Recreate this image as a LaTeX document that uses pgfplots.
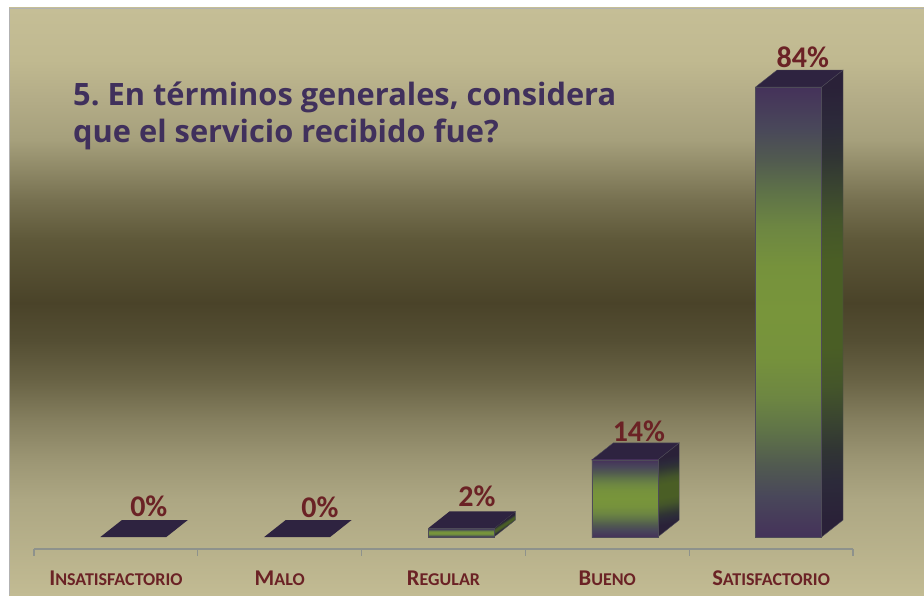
\documentclass[border=0pt]{standalone}
\usepackage{fontspec}
\setmainfont{Carlito}
\newfontfamily\titlefont{Open Sans}
\usepackage{pgfplots}
\pgfplotsset{compat=1.18}
\definecolor{maroon}{HTML}{6B2225}
\definecolor{titlepurple}{HTML}{40305C}
\definecolor{edgec}{HTML}{4E4B58}
\definecolor{axisc}{HTML}{8E928C}
\definecolor{f0}{HTML}{45325A}
\definecolor{f1}{HTML}{49475A}
\definecolor{f2}{HTML}{515A50}
\definecolor{f3}{HTML}{5F7348}
\definecolor{f4}{HTML}{6D8642}
\definecolor{f5}{HTML}{76923C}
\definecolor{f6}{HTML}{78953B}
\definecolor{s0}{HTML}{2A2138}
\definecolor{s1}{HTML}{2C2A3A}
\definecolor{s2}{HTML}{303434}
\definecolor{s3}{HTML}{3A4530}
\definecolor{s4}{HTML}{44552A}
\definecolor{s5}{HTML}{4A5E25}
\definecolor{topc}{HTML}{2E2340}
\definecolor{b0}{HTML}{C5BE96}
\definecolor{b1}{HTML}{C0B990}
\definecolor{b2}{HTML}{B3AC87}
\definecolor{b3}{HTML}{A6A07C}
\definecolor{b4}{HTML}{8E8866}
\definecolor{b5}{HTML}{767050}
\definecolor{b6}{HTML}{5E5839}
\definecolor{b7}{HTML}{4A4329}
\definecolor{b8}{HTML}{544E33}
\definecolor{b9}{HTML}{696345}
\definecolor{b10}{HTML}{857F5F}
\definecolor{b11}{HTML}{9C9674}
\definecolor{b12}{HTML}{ADA783}
\definecolor{b13}{HTML}{C2BB93}
\pgfdeclareverticalshading{panelbg}{100bp}{%
 color(0bp)=(b13);color(25bp)=(b13);color(33.1bp)=(b12);color(36.5bp)=(b11);color(39.9bp)=(b10);
 color(43.3bp)=(b9);color(46.7bp)=(b8);color(49.9bp)=(b7);color(55.2bp)=(b6);color(58.6bp)=(b5);
 color(61.2bp)=(b4);color(63.8bp)=(b3);color(67.2bp)=(b2);color(70.6bp)=(b1);color(75bp)=(b0);color(100bp)=(b0)}
\pgfdeclareverticalshading{barfront}{100bp}{%
 color(0bp)=(f0);color(25bp)=(f0);color(29.5bp)=(f1);color(33bp)=(f2);color(36.75bp)=(f3);
 color(40.5bp)=(f4);color(45bp)=(f5);color(50bp)=(f6);color(55bp)=(f5);color(59.5bp)=(f4);
 color(63.25bp)=(f3);color(67bp)=(f2);color(70.5bp)=(f1);color(75bp)=(f0);color(100bp)=(f0)}
\pgfdeclareverticalshading{sideC}{100bp}{%
 color(0bp)=(s0);color(25.9bp)=(s0);color(30.25bp)=(s1);color(33.6bp)=(s2);color(37.2bp)=(s3);
 color(40.85bp)=(s4);color(45.2bp)=(s5);color(54.8bp)=(s5);color(59.15bp)=(s4);color(62.8bp)=(s3);
 color(66.4bp)=(s2);color(69.75bp)=(s1);color(74.1bp)=(s0);color(100bp)=(s0)}
\pgfdeclareverticalshading{sideB}{100bp}{%
 color(0bp)=(s0);color(29.8bp)=(s0);color(33.5bp)=(s1);color(36.3bp)=(s2);color(39.3bp)=(s3);
 color(42.3bp)=(s4);color(46bp)=(s5);color(54bp)=(s5);color(57.7bp)=(s4);color(60.7bp)=(s3);
 color(63.7bp)=(s2);color(66.5bp)=(s1);color(70.2bp)=(s0);color(100bp)=(s0)}
\pgfdeclareverticalshading{sideA}{100bp}{%
 color(0bp)=(s0);color(42.8bp)=(s0);color(44.1bp)=(s1);color(45.1bp)=(s2);color(46.1bp)=(s3);
 color(47.2bp)=(s4);color(48.6bp)=(s5);color(51.4bp)=(s5);color(52.8bp)=(s4);color(53.9bp)=(s3);
 color(54.9bp)=(s2);color(55.9bp)=(s1);color(57.2bp)=(s0);color(100bp)=(s0)}
\newcommand\sm[2]{{\fontsize{22.5}{24}\selectfont #1}{\fontsize{18}{24}\selectfont #2}}
\begin{document}
\frenchspacing
\begin{tikzpicture}
\useasboundingbox (0pt,0pt) rectangle (924pt,595pt);
\shade[shading=panelbg] (9pt,0pt) rectangle (924pt,587pt);
\draw[color=black!30,line width=0.9pt] (9pt,0pt) -- (9pt,587pt) -- (924pt,587pt);
\node[anchor=base west,font=\titlefont\bfseries\fontsize{30.8}{37}\selectfont,text=titlepurple,inner sep=0pt] at (73pt,489pt) {5. En términos generales, considera};
\node[anchor=base west,font=\titlefont\bfseries\fontsize{30.8}{37}\selectfont,text=titlepurple,inner sep=0pt] at (73pt,452pt) {que el servicio recibido fue?};
\begin{axis}[
  at={(34pt,46pt)},anchor=south west,
  scale only axis,width=819pt,height=547.7pt,
  xmin=-0.5,xmax=4.5,ymin=-2.24,ymax=100,
  clip=false,
  axis y line=none,axis x line*=bottom,
  axis line style={-,draw=axisc,line width=1.2pt},
  xtick={0,1,2,3,4},
  xticklabels={\sm{I}{NSATISFACTORIO},\sm{M}{ALO},\sm{R}{EGULAR},\sm{B}{UENO},\sm{S}{ATISFACTORIO}},
  minor xtick={-0.5,0.5,1.5,2.5,3.5,4.5},
  major tick length=0pt,minor tick length=7pt,tick align=outside,
  minor tick style={draw=axisc,line width=1.2pt},
  xticklabel style={font=\bfseries,text=maroon,inner sep=0pt,text height=15pt,text depth=0pt,yshift=-21pt},
  every axis plot/.append style={draw=edgec,line width=0.4pt},
]
% Insatisfactorio 0
\addplot[fill=topc,draw=none] coordinates {(-0.0946,0)(0.308,0)(0.439,3.17)(0.0367,3.17)} -- cycle;
% Malo 0
\addplot[fill=topc,draw=none] coordinates {(0.9054,0)(1.308,0)(1.439,3.17)(1.0367,3.17)} -- cycle;
% Regular 1.6
\addplot[shade,shading=sideA,shading angle=33.2] coordinates {(2.308,0)(2.439,3.17)(2.439,4.77)(2.308,1.6)} -- cycle;
\addplot[fill=topc,draw=none] coordinates {(1.9054,1.6)(2.308,1.6)(2.439,4.77)(2.0367,4.77)} -- cycle;
\addplot[ybar,bar width=66pt,bar shift=17.5pt,shade,shading=barfront] coordinates {(2,1.6)};
% Bueno 14.4
\addplot[shade,shading=sideB,shading angle=10.25] coordinates {(3.308,0)(3.439,3.17)(3.439,17.57)(3.308,14.4)} -- cycle;
\addplot[fill=topc] coordinates {(2.9054,14.4)(3.308,14.4)(3.439,17.57)(3.0367,17.57)} -- cycle;
\addplot[ybar,bar width=66pt,bar shift=17.5pt,shade,shading=barfront] coordinates {(3,14.4)};
% Satisfactorio 84
\addplot[shade,shading=sideC,shading angle=2.08] coordinates {(4.308,0)(4.439,3.17)(4.439,87.17)(4.308,84)} -- cycle;
\addplot[fill=topc] coordinates {(3.9054,84)(4.308,84)(4.439,87.17)(4.0367,87.17)} -- cycle;
\addplot[ybar,bar width=66pt,bar shift=17.5pt,shade,shading=barfront] coordinates {(4,84)};
% labels
\addplot[draw=none,mark=none,
  point meta=explicit,
  nodes near coords={\pgfmathprintnumber[precision=0]{\pgfplotspointmeta}\%},
  every node near coord/.style={anchor=center,inner sep=0pt,text=maroon,font=\bfseries\fontsize{30}{30}\selectfont,/pgf/number format/assume math mode=true}]
  coordinates {(0.201,5.8)[0] (1.245,5.6)[0] (2.204,7.65)[1.6] (3.193,19.8)[14.4] (4.194,89.6)[84]};
\end{axis}
\end{tikzpicture}
\end{document}
